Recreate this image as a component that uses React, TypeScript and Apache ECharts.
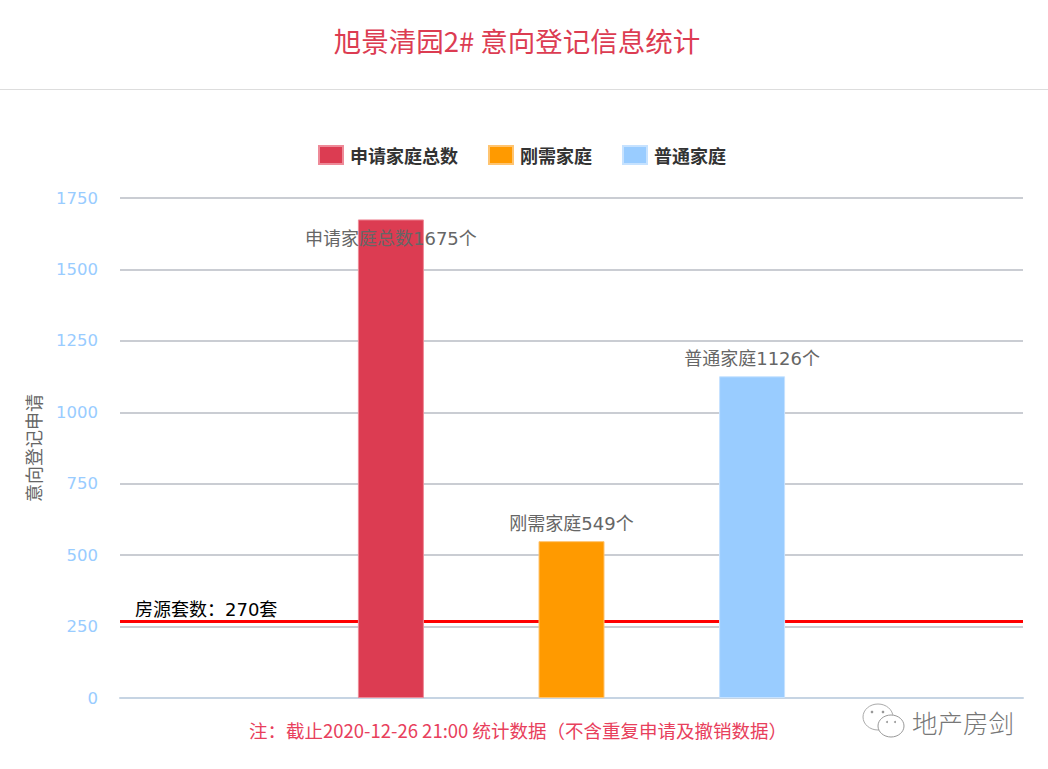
import React, { useEffect, useRef } from "react";
import * as echarts from "echarts";

const categories = ["", "申请家庭总数", "刚需家庭", "普通家庭", " "];
const totalValues: (number | string)[] = ["-", 1675, "-", "-", "-"];
const rigidValues: (number | string)[] = ["-", "-", 549, "-", "-"];
const normalValues: (number | string)[] = ["-", "-", "-", 1126, "-"];
const supplyValue = 270;
const titleText = "旭景清园2# 意向登记信息统计";
const noteText = "注：截止2020-12-26 21:00 统计数据（不含重复申请及撤销数据）";
const axisName = "意向登记申请";
const watermark = "地产房剑";
const FONT = '"Noto Sans CJK SC", "Noto Sans", sans-serif';
const WIDE = '"DejaVu Sans", "Noto Sans CJK SC", sans-serif';

function barSeries(name: string, data: (number | string)[], color: string, border: string, position: string, distance: number) {
  return {
    type: "bar",
    name,
    data,
    z: 3,
    barWidth: 66,
    barGap: "-100%",
    itemStyle: { color, borderColor: border, borderWidth: 1 },
    label: {
      show: true,
      position,
      distance,
      color: "#666666",
      fontSize: 18,
      fontFamily: WIDE,
      formatter: (p: any) => `${p.seriesName}${p.value}个`,
    },
  };
}

export default function App() {
  const ref = useRef<HTMLDivElement>(null);
  useEffect(() => {
    const chart = echarts.init(ref.current!, undefined, { renderer: "svg" });
    chart.setOption({
      animation: false,
      backgroundColor: "#ffffff",
      title: {
        text: titleText,
        left: 512,
        top: 21,
        textAlign: "center",
        textStyle: { color: "#dc3c52", fontSize: 27.5, fontWeight: "normal", fontFamily: FONT },
      },
      legend: {
        data: ["申请家庭总数", "刚需家庭", "普通家庭"],
        top: 140,
        left: 313,
        icon: "rect",
        itemWidth: 24,
        itemHeight: 18,
        itemGap: 30,
        textStyle: { color: "#333333", fontSize: 18, fontWeight: "bold", fontFamily: FONT, padding: [0, 0, 0, 2] },
      },
      grid: { left: 120, right: 25, top: 198, bottom: 71, containLabel: false },
      xAxis: {
        type: "category",
        data: categories,
        axisLine: { lineStyle: { color: "#c6d4e3", width: 2 } },
        axisTick: { show: false },
        axisLabel: { show: false },
      },
      yAxis: {
        type: "value",
        min: 0,
        max: 1750,
        interval: 250,
        name: axisName,
        nameLocation: "middle",
        nameGap: 78,
        nameTextStyle: { color: "#666666", fontSize: 18, fontFamily: FONT },
        axisLine: { show: false },
        axisTick: { show: false },
        axisLabel: {
          color: "#99ccff",
          fontSize: 16.5,
          margin: 22,
          padding: [2, 0, 0, 0],
          fontFamily: WIDE,
          formatter: (v: number) => String(v),
        },
        splitLine: { lineStyle: { color: "#b8bcc4", width: 1.5 } },
      },
      series: [
        barSeries("申请家庭总数", totalValues, "#dc3c52", "#ee8a98", "insideTop", 10),
        barSeries("刚需家庭", rigidValues, "#ff9a00", "#ffc470", "top", 9),
        barSeries("普通家庭", normalValues, "#99ccff", "#c6e2ff", "top", 9),
        {
          type: "line",
          name: "房源",
          data: [],
          z: 1,
          markLine: {
            silent: true,
            symbol: "none",
            z: 1,
            lineStyle: { color: "#ff0000", width: 3, type: "solid" },
            label: {
              show: true,
              position: "insideStartTop",
              distance: [15, 2],
              formatter: `房源套数：${supplyValue}套`,
              color: "#000000",
              fontSize: 18,
              fontFamily: WIDE,
            },
            data: [{ yAxis: supplyValue }],
          },
        },
      ],
      graphic: [
        { type: "line", shape: { x1: 0, y1: 89.5, x2: 1048, y2: 89.5 }, style: { stroke: "#dddddd", lineWidth: 1 } },
        {
          type: "text",
          x: 249,
          y: 721,
          style: { text: noteText, fill: "#e8405c", fontSize: 18.5, fontFamily: FONT },
        },
        { type: "ellipse", shape: { cx: 878, cy: 717, rx: 15, ry: 13 }, style: { fill: "#ffffff", stroke: "#aaaaaa", lineWidth: 1 } },
        { type: "ellipse", shape: { cx: 891, cy: 726, rx: 13, ry: 11 }, style: { fill: "#ffffff", stroke: "#999999", lineWidth: 1 } },
        { type: "circle", shape: { cx: 872, cy: 712, r: 1.3 }, style: { fill: "#999999" } },
        { type: "circle", shape: { cx: 883, cy: 712, r: 1.3 }, style: { fill: "#999999" } },
        { type: "circle", shape: { cx: 887, cy: 722, r: 1 }, style: { fill: "#999999" } },
        { type: "circle", shape: { cx: 895, cy: 722, r: 1 }, style: { fill: "#999999" } },
        {
          type: "text",
          x: 912,
          y: 709,
          style: { text: watermark, fill: "#777777", fontSize: 25.5, fontFamily: FONT, fontWeight: 300 },
        },
      ],
    });
    return () => chart.dispose();
  }, []);
  return <div ref={ref} style={{ width: 1048, height: 769, position: "absolute", left: 0, top: 0 }} />;
}
